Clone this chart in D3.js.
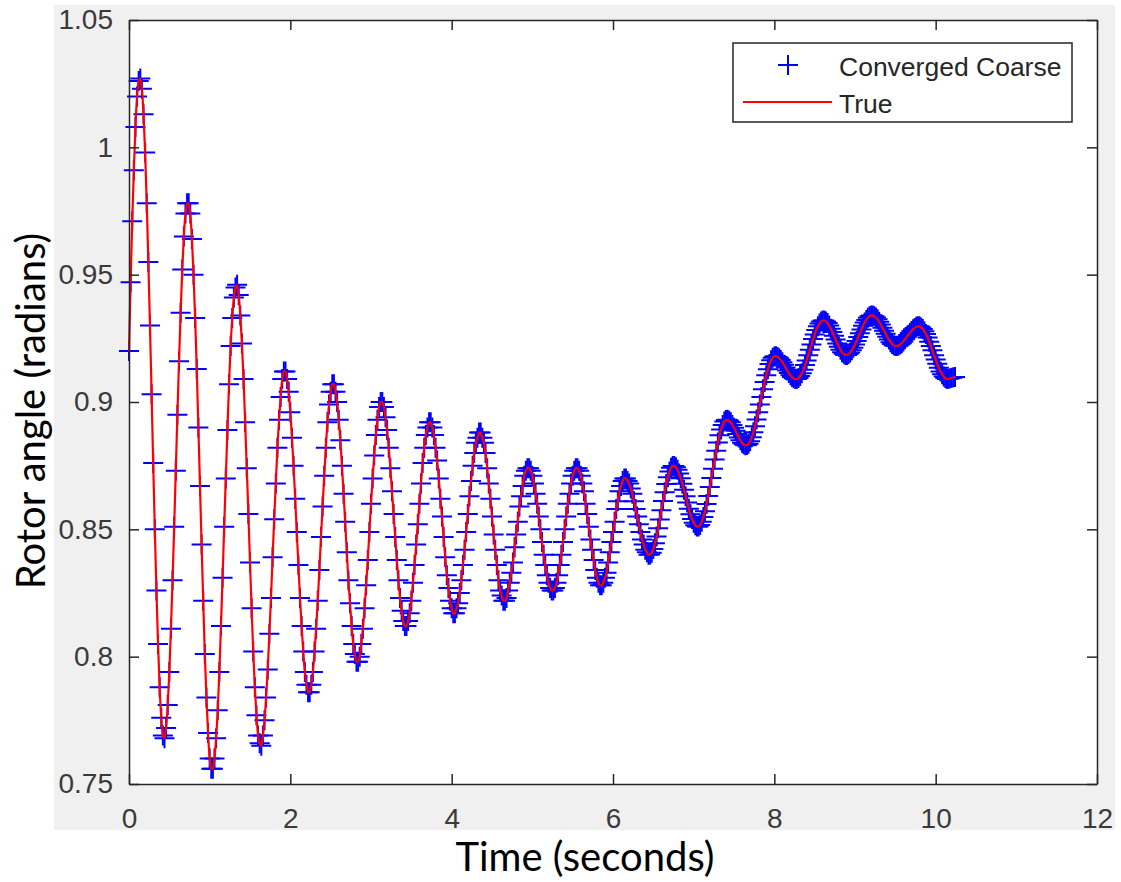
<!DOCTYPE html>
<meta charset="utf-8">
<style>
body { margin: 0; background: #fff; }
.tick text { font: 28px "Liberation Sans", Arial, sans-serif; fill: #3a3a3a; }
.axis path, .axis line { stroke: #262626; stroke-width: 1.5px; }
.ylabel, .xlabel { font-family: Lato, "Open Sans", sans-serif; font-size: 40px; fill: #000; }
.legend text { font: 26.5px "Liberation Sans", Arial, sans-serif; fill: #262626; }
</style>
<svg width="1121" height="882"></svg>
<script src="https://d3js.org/d3.v7.min.js"></script>
<script>

// sample interval of the solution (seconds)
var step = 0.02;

// rotor angle (radians), one value per sample
var angle = [
  0.920, 0.947, 0.971, 0.991, 1.008, 1.020, 1.026,
  1.027, 1.023, 1.013, 0.998, 0.978, 0.955, 0.930, 0.903, 0.876, 0.850, 0.826, 0.805, 0.788, 0.776, 0.769,
  0.768, 0.772, 0.781, 0.794, 0.811, 0.830, 0.851, 0.873, 0.895, 0.916, 0.935, 0.952, 0.965, 0.974, 0.978,
  0.978, 0.974, 0.964, 0.950, 0.933, 0.913, 0.890, 0.867, 0.844, 0.822, 0.801, 0.784, 0.770, 0.760, 0.756,
  0.756, 0.760, 0.768, 0.779, 0.794, 0.812, 0.831, 0.851, 0.870, 0.889, 0.907, 0.922, 0.933, 0.941, 0.945,
  0.946, 0.942, 0.934, 0.923, 0.909, 0.892, 0.874, 0.856, 0.837, 0.819, 0.802, 0.788, 0.777, 0.769, 0.766,
  0.765, 0.769, 0.775, 0.784, 0.795, 0.809, 0.823, 0.839, 0.854, 0.868, 0.882, 0.893, 0.902, 0.909, 0.912,
  0.912, 0.909, 0.904, 0.896, 0.886, 0.875, 0.862, 0.849, 0.836, 0.823, 0.812, 0.802, 0.794, 0.789, 0.786,
  0.786, 0.789, 0.794, 0.802, 0.811, 0.822, 0.834, 0.847, 0.859, 0.871, 0.882, 0.892, 0.899, 0.904, 0.907,
  0.907, 0.904, 0.900, 0.893, 0.885, 0.875, 0.864, 0.853, 0.841, 0.830, 0.821, 0.812, 0.805, 0.801, 0.798,
  0.798, 0.800, 0.805, 0.811, 0.819, 0.828, 0.838, 0.849, 0.860, 0.870, 0.879, 0.887, 0.893, 0.898, 0.900,
  0.900, 0.898, 0.894, 0.889, 0.882, 0.874, 0.865, 0.856, 0.847, 0.838, 0.830, 0.823, 0.818, 0.814, 0.812,
  0.812, 0.814, 0.817, 0.822, 0.829, 0.836, 0.844, 0.852, 0.860, 0.868, 0.876, 0.882, 0.887, 0.890, 0.892,
  0.892, 0.890, 0.887, 0.882, 0.877, 0.870, 0.862, 0.855, 0.847, 0.839, 0.832, 0.827, 0.822, 0.819, 0.817,
  0.817, 0.819, 0.821, 0.825, 0.830, 0.836, 0.842, 0.849, 0.856, 0.863, 0.869, 0.875, 0.880, 0.884, 0.886, 0.888,
  0.888, 0.886, 0.884, 0.880, 0.874, 0.868, 0.862, 0.855, 0.848, 0.842, 0.836, 0.830, 0.826, 0.824, 0.822,
  0.822, 0.823, 0.826, 0.829, 0.833, 0.837, 0.843, 0.848, 0.853, 0.859, 0.863, 0.867, 0.871, 0.873, 0.874,
  0.874, 0.873, 0.871, 0.868, 0.864, 0.860, 0.855, 0.850, 0.845, 0.840, 0.836, 0.832, 0.829, 0.827, 0.826,
  0.826, 0.827, 0.829, 0.832, 0.836, 0.840, 0.845, 0.850, 0.855, 0.860, 0.864, 0.868, 0.871, 0.873, 0.874,
  0.874, 0.873, 0.871, 0.868, 0.865, 0.860, 0.856, 0.851, 0.846, 0.842, 0.838, 0.834, 0.831, 0.829, 0.828,
  0.828, 0.829, 0.831, 0.833, 0.837, 0.841, 0.845, 0.849, 0.853, 0.858, 0.861, 0.865, 0.867, 0.869, 0.870,
  0.870, 0.869, 0.868, 0.866, 0.864, 0.861, 0.858, 0.855, 0.852, 0.849, 0.846, 0.844, 0.842, 0.841, 0.840,
  0.8401, 0.8408, 0.8423, 0.8445, 0.8472, 0.8504, 0.8539, 0.8575, 0.8611, 0.8646, 0.8678, 0.8705, 0.8727, 0.8742, 0.8749,
  0.8749, 0.8744, 0.8734, 0.8719, 0.8701, 0.8679, 0.8655, 0.8630, 0.8605, 0.8581, 0.8559, 0.8541, 0.8526, 0.8516, 0.8511,
  0.8511, 0.8517, 0.8530, 0.8548, 0.8571, 0.8599, 0.8631, 0.8666, 0.8702, 0.8738, 0.8774, 0.8809, 0.8841, 0.8869, 0.8892, 0.8910, 0.8923, 0.8929,
  0.8930, 0.8926, 0.8920, 0.8910, 0.8899, 0.8887, 0.8874, 0.8861, 0.8850, 0.8840, 0.8834, 0.8830,
  0.8831, 0.8836, 0.8846, 0.8862, 0.8881, 0.8905, 0.8931, 0.8960, 0.8990, 0.9020, 0.9050, 0.9079, 0.9105, 0.9129, 0.9149, 0.9164, 0.9174, 0.9179,
  0.9180, 0.9177, 0.9172, 0.9165, 0.9156, 0.9146, 0.9135, 0.9124, 0.9114, 0.9105, 0.9098, 0.9093, 0.9090,
  0.9090, 0.9094, 0.9102, 0.9113, 0.9127, 0.9145, 0.9163, 0.9184, 0.9205, 0.9226, 0.9247, 0.9265, 0.9283, 0.9297, 0.9308, 0.9316, 0.9320,
  0.9320, 0.9316, 0.9310, 0.9300, 0.9288, 0.9275, 0.9260, 0.9245, 0.9230, 0.9217, 0.9205, 0.9195, 0.9189, 0.9185,
  0.9185, 0.9188, 0.9194, 0.9203, 0.9213, 0.9226, 0.9240, 0.9255, 0.9270, 0.9285, 0.9299, 0.9312, 0.9322, 0.9331, 0.9337, 0.9340,
  0.9340, 0.9337, 0.9332, 0.9325, 0.9315, 0.9304, 0.9292, 0.9280, 0.9268, 0.9256, 0.9245, 0.9235, 0.9228, 0.9223, 0.9220,
  0.9220, 0.9222, 0.9226, 0.9231, 0.9238, 0.9246, 0.9254, 0.9263, 0.9271, 0.9279, 0.9286, 0.9291, 0.9295, 0.9297,
  0.9297, 0.9293, 0.9287, 0.9278, 0.9267, 0.9253, 0.9237, 0.9220, 0.9203, 0.9184, 0.9167, 0.9150, 0.9134, 0.9120, 0.9109, 0.9100, 0.9094, 0.9090,
  0.9091, 0.9093, 0.9095, 0.9097, 0.9098
];

var xTicks = [0, 2, 4, 6, 8, 10, 12];
var yTicks = [0.75, 0.8, 0.85, 0.9, 0.95, 1, 1.05];
var seriesNames = ["Converged Coarse", "True"];

var svg = d3.select("svg"),
    width = +svg.attr("width"),
    height = +svg.attr("height");

var plot = { left: 129, top: 20, right: 1097, bottom: 784 };

var x = d3.scaleLinear().domain([0, 12]).range([plot.left, plot.right]);
var y = d3.scaleLinear().domain([0.75, 1.05]).range([plot.bottom, plot.top]);

var points = angle.map(function(v, i) { return { t: i * step, v: v }; });

// figure background and axes box
svg.append("rect")
    .attr("x", 54).attr("y", 5)
    .attr("width", 1061).attr("height", 825)
    .attr("fill", "#f0f0f0");

svg.append("rect")
    .attr("x", plot.left).attr("y", plot.top)
    .attr("width", plot.right - plot.left).attr("height", plot.bottom - plot.top)
    .attr("fill", "#fff");

var plus = "M-10,0H10M0,-10V10";

svg.append("g")
    .attr("class", "markers")
  .selectAll("path")
  .data(points)
  .enter().append("path")
    .attr("d", plus)
    .attr("transform", function(d) { return "translate(" + x(d.t) + "," + y(d.v) + ")"; })
    .attr("fill", "none")
    .attr("stroke", "#0000ff")
    .attr("stroke-width", 2);

var line = d3.line()
    .x(function(d) { return x(d.t); })
    .y(function(d) { return y(d.v); })
    .curve(d3.curveMonotoneX);

svg.append("path")
    .datum(points)
    .attr("d", line)
    .attr("fill", "none")
    .attr("stroke", "#ff0000")
    .attr("stroke-width", 2.2);

// axes, ticks pointing inward on all four sides
svg.append("g")
    .attr("class", "axis")
    .attr("transform", "translate(0," + plot.bottom + ")")
    .call(d3.axisBottom(x).tickValues(xTicks).tickSize(-10).tickSizeOuter(0).tickPadding(24).tickFormat(d3.format("d")));

svg.append("g")
    .attr("class", "axis")
    .attr("transform", "translate(" + plot.left + ",0)")
    .call(d3.axisLeft(y).tickValues(yTicks).tickSize(-10).tickSizeOuter(0).tickPadding(16).tickFormat(function(d) { return d3.format("")(+d.toFixed(2)); }));

svg.append("g")
    .attr("class", "axis")
    .attr("transform", "translate(0," + plot.top + ")")
    .call(d3.axisTop(x).tickValues(xTicks).tickSize(-10).tickSizeOuter(0).tickFormat(""));

svg.append("g")
    .attr("class", "axis")
    .attr("transform", "translate(" + plot.right + ",0)")
    .call(d3.axisRight(y).tickValues(yTicks).tickSize(-10).tickSizeOuter(0).tickFormat(""));

svg.selectAll(".axis .domain").attr("stroke", "#262626").attr("stroke-width", 1.5);

// axis titles
svg.append("text")
    .attr("class", "xlabel")
    .attr("x", 585)
    .attr("y", 871)
    .attr("text-anchor", "middle")
    .text("Time (seconds)");

svg.append("text")
    .attr("class", "ylabel")
    .attr("transform", "translate(45,411) rotate(-90)")
    .attr("text-anchor", "middle")
    .text("Rotor angle (radians)");

// legend
var legend = svg.append("g").attr("class", "legend");

legend.append("rect")
    .attr("x", 733).attr("y", 43)
    .attr("width", 339).attr("height", 79)
    .attr("fill", "#fff")
    .attr("stroke", "#262626")
    .attr("stroke-width", 1.5);

legend.append("path")
    .attr("d", plus)
    .attr("transform", "translate(788,65)")
    .attr("fill", "none")
    .attr("stroke", "#0000ff")
    .attr("stroke-width", 2);

legend.append("line")
    .attr("x1", 743).attr("x2", 832)
    .attr("y1", 102).attr("y2", 102)
    .attr("stroke", "#ff0000")
    .attr("stroke-width", 2);

legend.selectAll("text.name")
  .data(seriesNames)
  .enter().append("text")
    .attr("class", "name")
    .attr("x", 839)
    .attr("y", function(d, i) { return 76 + i * 37; })
    .text(function(d) { return d; });

</script>
